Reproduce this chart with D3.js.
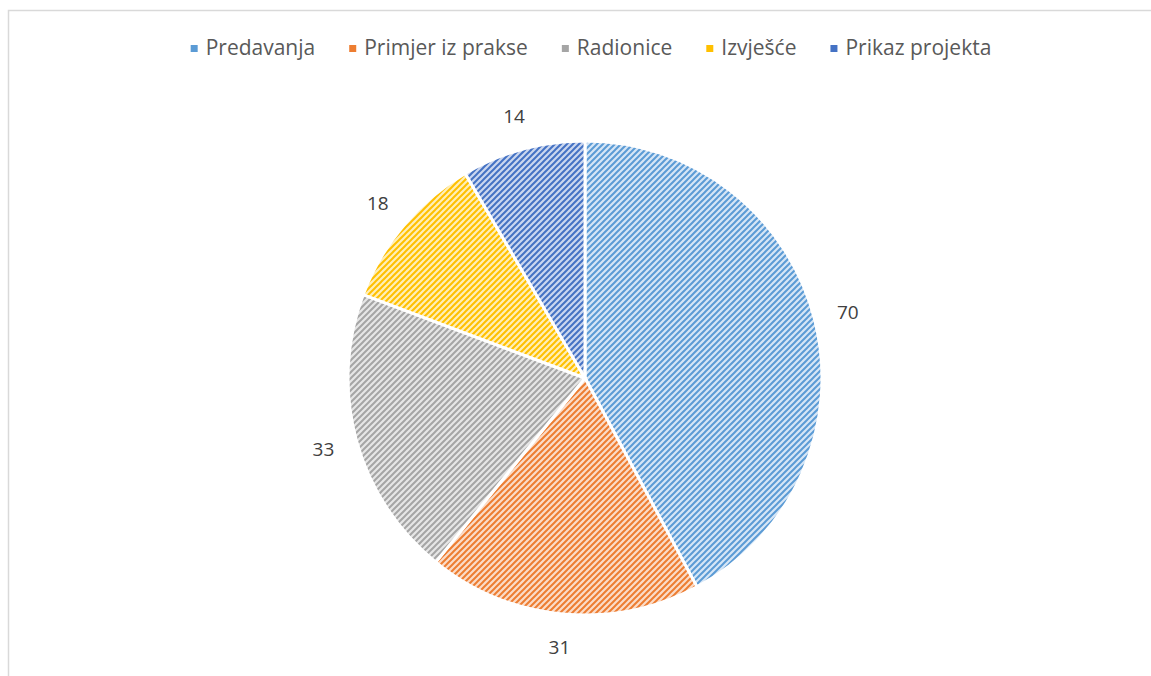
<!DOCTYPE html>
<html>
<head>
<meta charset="utf-8">
<script src="https://cdn.jsdelivr.net/npm/d3@7"></script>
<style>
  body { margin: 0; background: #fff; }
  svg { display: block; }
</style>
</head>
<body>
<svg id="chart" width="1151" height="676"></svg>
<script>
var categories = ["Predavanja", "Primjer iz prakse", "Radionice", "Izvješće", "Prikaz projekta"];
var values = [70, 31, 33, 18, 14];
var colors = ["#5B9BD5", "#ED7D31", "#A5A5A5", "#FFC000", "#4472C4"];
var lightColors = ["#D6E6F6", "#FBDCC8", "#E6E6E6", "#FFEFB8", "#CBD7EF"];

var width = 1151, height = 676;
var cx = 585, cy = 378, radius = 237, labelRadius = 271;

var svg = d3.select("#chart");

// chart area border
svg.append("path")
  .attr("d", "M8.5," + height + "V10.5H" + width)
  .attr("fill", "none")
  .attr("stroke", "#d9d9d9")
  .attr("stroke-width", 1.5);

// diagonal pattern fills
var defs = svg.append("defs");
categories.forEach(function(c, i) {
  var p = defs.append("pattern")
    .attr("id", "pat" + i)
    .attr("patternUnits", "userSpaceOnUse")
    .attr("width", 6)
    .attr("height", 6);
  p.append("rect").attr("width", 6).attr("height", 6).attr("fill", lightColors[i]);
  p.append("path")
    .attr("d", "M-1,1L1,-1M0,6L6,0M5,7L7,5")
    .attr("stroke", colors[i])
    .attr("stroke-width", 2);
});

var pie = d3.pie().sort(null).value(function(d) { return d; });
var arcs = pie(values);
var arc = d3.arc().innerRadius(0).outerRadius(radius);
var labelArc = d3.arc().innerRadius(labelRadius).outerRadius(labelRadius);

var g = svg.append("g").attr("transform", "translate(" + cx + "," + cy + ")");

g.selectAll("path.slice")
  .data(arcs)
  .enter().append("path")
  .attr("class", "slice")
  .attr("d", arc)
  .attr("fill", function(d, i) { return "url(#pat" + i + ")"; })
  .attr("stroke", "#fff")
  .attr("stroke-width", 3);

g.selectAll("text.lbl")
  .data(arcs)
  .enter().append("text")
  .attr("class", "lbl")
  .attr("transform", function(d) { return "translate(" + labelArc.centroid(d) + ")"; })
  .attr("text-anchor", "middle")
  .attr("dy", "0.35em")
  .style("font-family", "'Open Sans', sans-serif")
  .style("font-size", "19px")
  .attr("fill", "#404040")
  .text(function(d) { return d.data; });

// legend, laid out from measured text widths and centred
var legend = svg.append("g");
var items = legend.selectAll("g.item")
  .data(categories)
  .enter().append("g")
  .attr("class", "item");

items.append("rect")
  .attr("width", 7).attr("height", 7)
  .attr("y", -3)
  .attr("fill", function(d, i) { return colors[i]; });

items.append("text")
  .attr("x", 15)
  .attr("dy", "0.35em")
  .style("font-family", "'Open Sans', sans-serif")
  .style("font-size", "21px")
  .attr("fill", "#595959")
  .text(function(d) { return d; });

var x = 0, gap = 34;
items.each(function() {
  var w = 15 + this.querySelector("text").getComputedTextLength();
  d3.select(this).attr("transform", "translate(" + x + ",0)");
  x += w + gap;
});
var total = x - gap;
legend.attr("transform", "translate(" + (591 - total / 2) + ",48)");
</script>
</body>
</html>
